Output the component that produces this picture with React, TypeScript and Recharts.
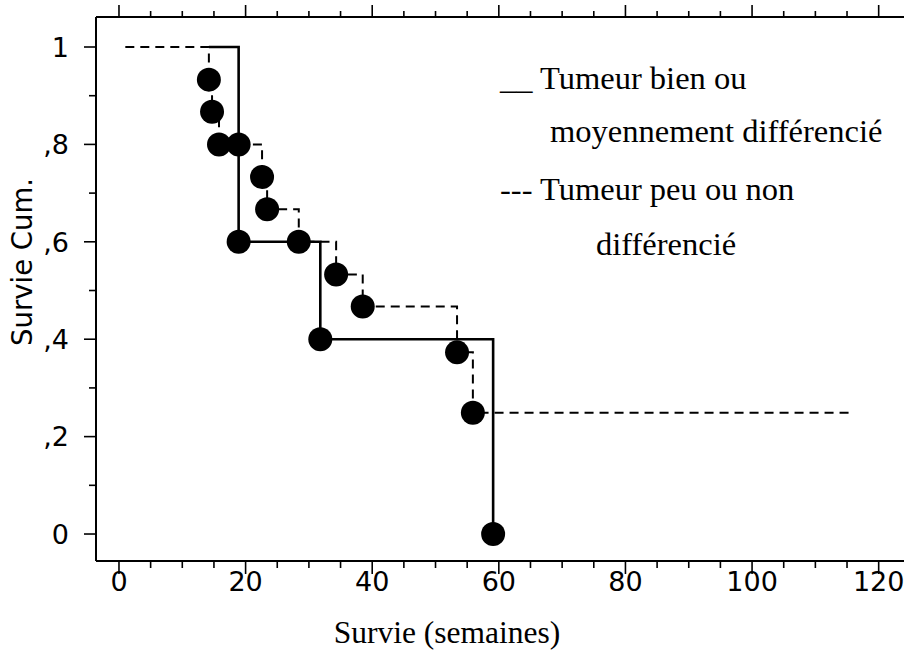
import { ComposedChart, Legend, Line, Scatter, XAxis, YAxis } from "recharts";

// Tumeur bien ou moyennement différencié (trait plein)
const bienX = [14.2, 18.9, 31.8, 59.1];
const bienY = [1, 0.6, 0.4, 0];
const bienEventX = [18.9, 18.9, 31.8, 59.1];
const bienEventY = [0.8, 0.6, 0.4, 0];

// Tumeur peu ou non différencié (pointillés)
const peuX = [1, 14.2, 14.7, 15.8, 22.6, 23.4, 28.4, 34.3, 38.5, 53.4, 55.9, 115.8];
const peuY = [1, 0.933, 0.867, 0.8, 0.733, 0.667, 0.6, 0.533, 0.467, 0.373, 0.249, 0.249];
const peuEventX = [14.2, 14.7, 15.8, 22.6, 23.4, 28.4, 34.3, 38.5, 53.4, 55.9];
const peuEventY = [0.933, 0.867, 0.8, 0.733, 0.667, 0.6, 0.533, 0.467, 0.373, 0.249];

// axes
const xTicks = [0, 5, 10, 15, 20, 25, 30, 35, 40, 45, 50, 55, 60, 65, 70, 75, 80, 85, 90, 95, 100, 105, 110, 115, 120];
const xMajor = [0, 20, 40, 60, 80, 100, 120];
const yTicks = [0, 0.1, 0.2, 0.3, 0.4, 0.5, 0.6, 0.7, 0.8, 0.9, 1];
const yMajor = [0, 0.2, 0.4, 0.6, 0.8, 1];
const yMajorLabels = ["0", ",2", ",4", ",6", ",8", "1"];

const xDomain = [-3.63, 124];
const yDomain = [-0.0554, 1.0616];

const toPoints = (xs: number[], ys: number[]) => xs.map((x, i) => ({ x, y: ys[i] }));

const sans = "'DejaVu Sans', sans-serif";
const serif = "'Liberation Serif', 'Times New Roman', serif";

const BottomTick = (props: any) => {
  const { x, y, payload } = props;
  const major = xMajor.includes(payload.value);
  return (
    <g>
      <line x1={x} x2={x} y1={y} y2={y + (major ? 13 : 7)} stroke="#000" strokeWidth={1.6} />
      {major && (
        <text x={x} y={y + 30} textAnchor="middle" fontFamily={sans} fontSize={27} fill="#000">
          {payload.value}
        </text>
      )}
    </g>
  );
};

const TopTick = (props: any) => {
  const { x, y, payload } = props;
  const major = xMajor.includes(payload.value);
  return <line x1={x} x2={x} y1={y} y2={y - (major ? 12 : 6)} stroke="#000" strokeWidth={1.6} />;
};

const LeftTick = (props: any) => {
  const { x, y, payload } = props;
  const idx = yMajor.findIndex((v) => Math.abs(v - payload.value) < 1e-6);
  const major = idx >= 0;
  return (
    <g>
      <line x1={x - (major ? 12 : 7)} x2={x} y1={y} y2={y} stroke="#000" strokeWidth={1.6} />
      {major && (
        <text x={x - 27} y={y} dy="0.36em" textAnchor="end" fontFamily={sans} fontSize={27} fill="#000">
          {yMajorLabels[idx]}
        </text>
      )}
    </g>
  );
};

const Dot = (props: any) => <circle cx={props.cx} cy={props.cy} r={12} fill="#000" />;

const LegendBox = () => (
  <svg width={414} height={230} style={{ display: "block" }}>
    <g fontFamily={serif} fontSize={32.5} fill="#000">
      <text x={10} y={39}>__</text>
      <text x={50} y={39}>Tumeur bien ou</text>
      <text x={60} y={92}>moyennement différencié</text>
      <text x={10} y={150}>---</text>
      <text x={50} y={150}>Tumeur peu ou non</text>
      <text x={106} y={205}>différencié</text>
    </g>
  </svg>
);

export default function App() {
  return (
    <div style={{ position: "absolute", left: 0, top: 0, background: "#fff" }}>
      <ComposedChart width={904} height={654} margin={{ top: 0, right: 0, bottom: 0, left: 0 }}>
        <XAxis
          dataKey="x"
          type="number"
          domain={xDomain}
          allowDataOverflow
          ticks={xTicks}
          interval={0}
          height={93}
          tickSize={0}
          tickMargin={0}
          tickLine={false}
          tick={BottomTick}
          axisLine={{ stroke: "#000", strokeWidth: 2 }}
          label={{
            content: () => (
              <text x={447} y={643} textAnchor="middle" fontFamily={serif} fontSize={31.5} fill="#000">
                Survie (semaines)
              </text>
            ),
          }}
        />
        <XAxis
          xAxisId="top"
          orientation="top"
          dataKey="x"
          type="number"
          domain={xDomain}
          allowDataOverflow
          ticks={xTicks}
          interval={0}
          height={17}
          tickSize={0}
          tickMargin={0}
          tickLine={false}
          tick={TopTick}
          axisLine={{ stroke: "#000", strokeWidth: 2 }}
        />
        <YAxis
          dataKey="y"
          type="number"
          domain={yDomain}
          allowDataOverflow
          ticks={yTicks}
          interval={0}
          width={96}
          tickSize={0}
          tickMargin={0}
          tickLine={false}
          tick={LeftTick}
          axisLine={{ stroke: "#000", strokeWidth: 2 }}
          label={{
            content: () => (
              <text
                x={32}
                y={262}
                transform="rotate(-90 32 262)"
                textAnchor="middle"
                fontFamily={sans}
                fontSize={27.5}
                fill="#000"
              >
                Survie Cum.
              </text>
            ),
          }}
        />
        <Legend
          layout="horizontal"
          verticalAlign="middle"
          align="center"
          content={LegendBox}
          wrapperStyle={{ left: 490, top: 50, width: 414, height: 230 }}
        />
        <Line
          data={toPoints(peuX, peuY)}
          dataKey="y"
          type="stepAfter"
          stroke="#000"
          strokeWidth={2}
          strokeDasharray="9 6"
          dot={false}
          activeDot={false}
          isAnimationActive={false}
          legendType="none"
        />
        <Line
          data={toPoints(bienX, bienY)}
          dataKey="y"
          type="stepAfter"
          stroke="#000"
          strokeWidth={2.6}
          dot={false}
          activeDot={false}
          isAnimationActive={false}
          legendType="none"
        />
        <Scatter
          data={toPoints(peuEventX, peuEventY)}
          dataKey="y"
          shape={Dot}
          isAnimationActive={false}
          legendType="none"
        />
        <Scatter
          data={toPoints(bienEventX, bienEventY)}
          dataKey="y"
          shape={Dot}
          isAnimationActive={false}
          legendType="none"
        />
      </ComposedChart>
    </div>
  );
}
